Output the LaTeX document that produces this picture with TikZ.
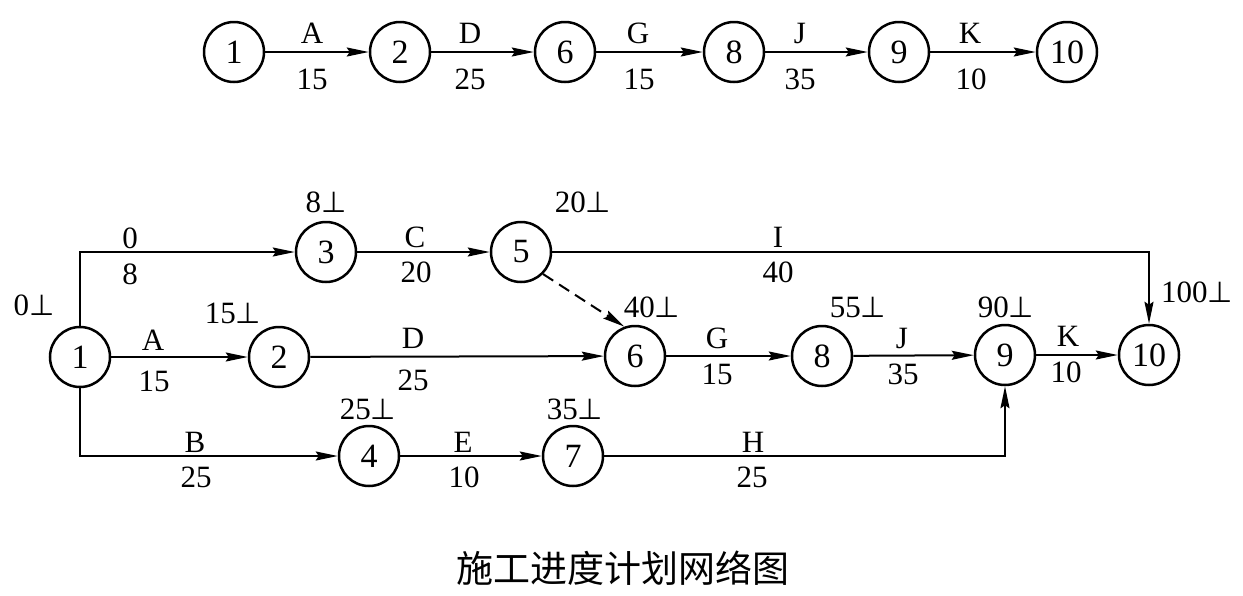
\documentclass[tikz,border=0pt]{standalone}
\usepackage{fontspec}
\setmainfont{Liberation Serif}
\newfontfamily\symfont{DejaVu Sans}
\newfontfamily\cjk{Noto Sans CJK SC}
\usetikzlibrary{arrows.meta}
\newcommand{\tp}{{\symfont\fontsize{29}{29}\selectfont ⊥}}
\begin{document}
\begin{tikzpicture}[x=1pt,y=-1pt,
  ev/.style={circle,draw,line width=2.5pt,minimum size=60pt,inner sep=0pt,font=\fontsize{34}{34}\selectfont},
  lab/.style={inner sep=0pt,font=\fontsize{31}{31}\selectfont},
  arr/.style={line width=2pt,-{Stealth[length=22pt,width=9pt,inset=3pt]}},
  dum/.style={arr,dash pattern=on 12pt off 7pt}]
\useasboundingbox (0,0) rectangle (1243,595);
% top row
\node[ev] (t1) at (234,52) {1};
\node[ev] (t2) at (400,52) {2};
\node[ev] (t6) at (565,52) {6};
\node[ev] (t8) at (734,52) {8};
\node[ev] (t9) at (899,52) {9};
\node[ev] (t10) at (1067,52) {10};
\draw[arr] (t1) -- (t2);
\draw[arr] (t2) -- (t6);
\draw[arr] (t6) -- (t8);
\draw[arr] (t8) -- (t9);
\draw[arr] (t9) -- (t10);
\node[lab] (ta) at (312,33) {A};
\node[lab] (tad) at (312,79) {15};
\node[lab] (td) at (470,33) {D};
\node[lab] (tdd) at (470,79) {25};
\node[lab] (tg) at (638,33) {G};
\node[lab] (tgd) at (639,79) {15};
\node[lab] (tj) at (800,33) {J};
\node[lab] (tjd) at (800,79) {35};
\node[lab] (tk) at (970,33) {K};
\node[lab] (tkd) at (971,79) {10};
% bottom network
\node[ev] (n1) at (80,357) {1};
\node[ev] (n2) at (279,357) {2};
\node[ev] (n3) at (326,252) {3};
\node[ev] (n5) at (521,252) {5};
\node[ev] (n6) at (635,356) {6};
\node[ev] (n8) at (822,356) {8};
\node[ev] (n9) at (1005,355) {9};
\node[ev] (n10) at (1149,355) {10};
\node[ev] (n4) at (369,456) {4};
\node[ev] (n7) at (573,456) {7};
\draw[arr] (n1) |- (n3);
\draw[arr] (n3) -- (n5);
\draw[arr] (n5) -| (n10);
\draw[dum] (n5.-45) -- (n6.110);
\draw[arr] (n1) -- (n2);
\draw[arr] (n2) -- (n6);
\draw[arr] (n6) -- (n8);
\draw[arr] (n8) -- (n9);
\draw[arr] (n9) -- (n10);
\draw[arr] (n1) |- (n4);
\draw[arr] (n4) -- (n7);
\draw[arr] (n7) -| (n9);
% activity labels
\node[lab] (l0) at (130,238) {0};
\node[lab] (l8) at (130,274) {8};
\node[lab] (lc) at (415,237) {C};
\node[lab] (lcd) at (416,272) {20};
\node[lab] (li) at (778,237) {I};
\node[lab] (lid) at (778,272) {40};
\node[lab] (la) at (153,340) {A};
\node[lab] (lad) at (154,381) {15};
\node[lab] (ld) at (413,338) {D};
\node[lab] (ldd) at (413,380) {25};
\node[lab] (lg) at (717,338) {G};
\node[lab] (lgd) at (717,374) {15};
\node[lab] (lj) at (902,338) {J};
\node[lab] (ljd) at (903,374) {35};
\node[lab] (lk) at (1068,336) {K};
\node[lab] (lkd) at (1066,372) {10};
\node[lab] (lb) at (195,442) {B};
\node[lab] (lbd) at (196,477) {25};
\node[lab] (le) at (463,442) {E};
\node[lab] (led) at (464,477) {10};
\node[lab] (lh) at (753,442) {H};
\node[lab] (lhd) at (752,477) {25};
% event times
\node[lab] (e1) at (34,305) {0\tp};
\node[lab] (e3) at (326,202) {8\tp};
\node[lab] (e5) at (583,202) {20\tp};
\node[lab] (e2) at (233,313) {15\tp};
\node[lab] (e6) at (652,307) {40\tp};
\node[lab] (e8) at (858,307) {55\tp};
\node[lab] (e9) at (1006,307) {90\tp};
\node[lab] (e10) at (1197,292) {100\tp};
\node[lab] (e4) at (368,409) {25\tp};
\node[lab] (e7) at (575,409) {35\tp};
% title
\node[inner sep=0pt,font=\cjk\fontsize{37}{37}\selectfont] (title) at (623,568) {施工进度计划网络图};
\end{tikzpicture}
\end{document}
